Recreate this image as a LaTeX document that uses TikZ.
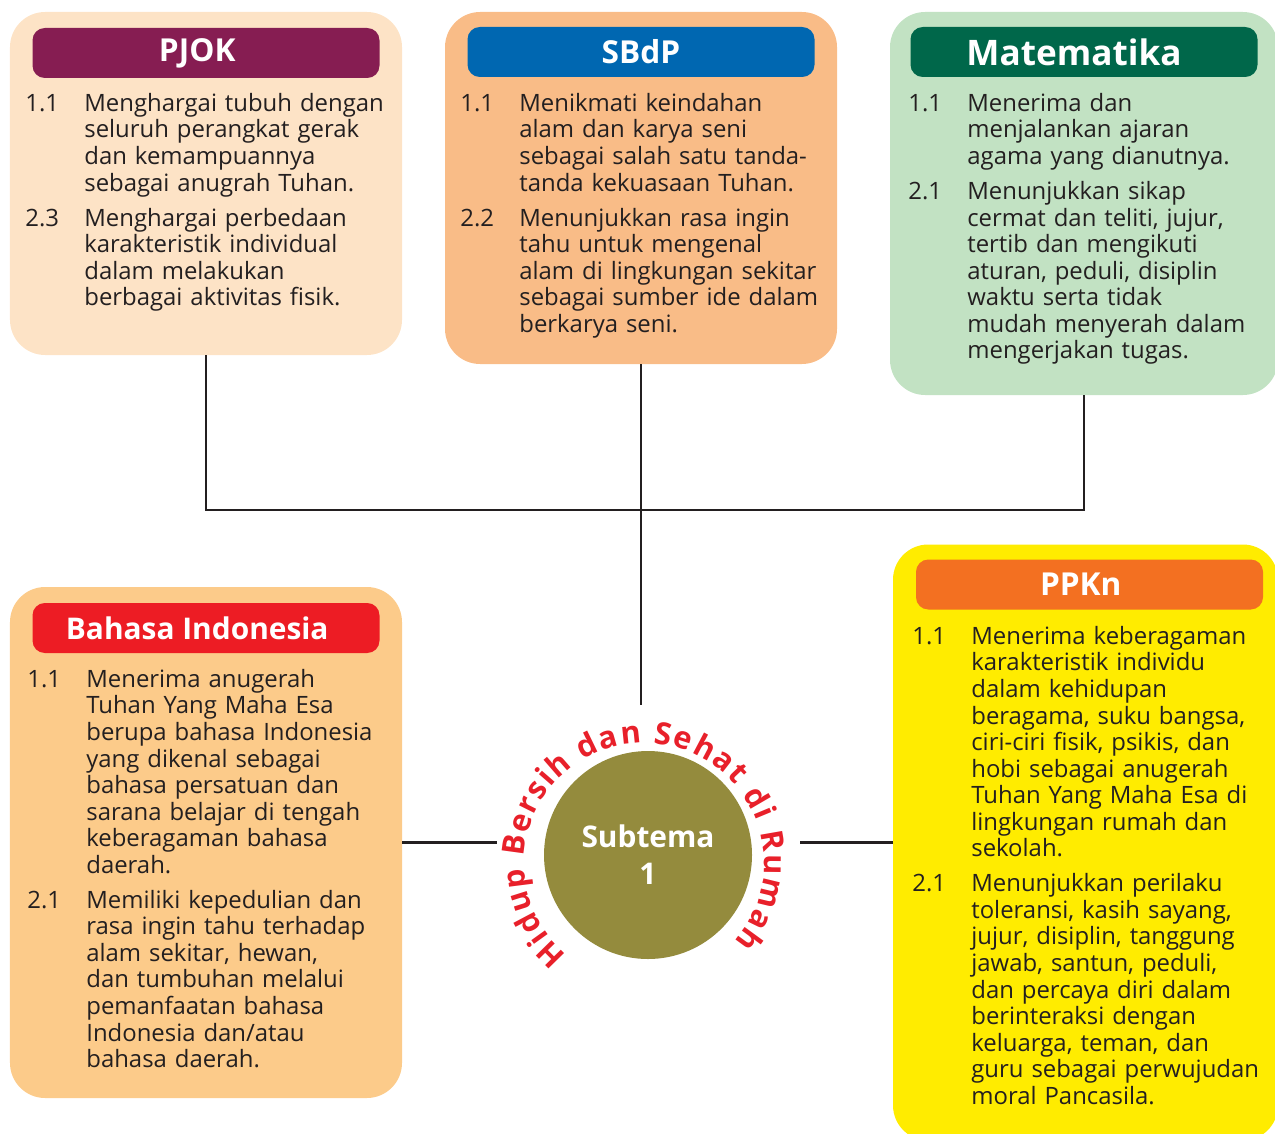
\documentclass[tikz,border=0pt]{standalone}
\usepackage{fontspec}
\setmainfont{Open Sans}
\usepackage{tikz}
\usetikzlibrary{positioning, decorations.text}
\usepackage{xcolor}
\definecolor{PjokUngu}{HTML}{861D52}
\definecolor{PjokKrem}{HTML}{FDE3C6}
\definecolor{SbdpBiru}{HTML}{0067B1}
\definecolor{SbdpJingga}{HTML}{F9BC87}
\definecolor{MtkHijau}{HTML}{00674A}
\definecolor{MtkHijauMuda}{HTML}{C2E2C3}
\definecolor{BindoMerah}{HTML}{ED1C24}
\definecolor{BindoOranye}{HTML}{FCCB8A}
\definecolor{PpknJingga}{HTML}{F37021}
\definecolor{PpknKuning}{HTML}{FFEC00}
\definecolor{TemaZaitun}{HTML}{948B3D}
\definecolor{TemaMerah}{HTML}{E8202A}
\definecolor{Tinta}{HTML}{231F20}

\newcommand{\butir}[2]{\makebox[1.18cm][l]{#1}\parbox[t]{6.6cm}{\raggedright\strut#2\strut}}

\begin{document}
\begin{tikzpicture}[
            card/.style={rounded corners=20pt, inner sep=0pt},
            head/.style={rounded corners=7pt, minimum width=6.94cm, minimum height=1cm, inner sep=0pt, text=white, font=\fontsize{18}{18}\selectfont\bfseries},
            body/.style={anchor=north west, inner sep=0pt, text width=7.8cm, align=left, text=Tinta, font=\fontsize{13.6}{15.1}\selectfont},
            link/.style={draw=Tinta, line width=1.3pt}
        ]
            \useasboundingbox (0,0) rectangle (25.5,-22.66);

            % kartu mata pelajaran
            \node[card, fill=PjokKrem, minimum width=7.84cm, minimum height=6.86cm] (pjok) at (4.12,-3.67) {};
            \node[card, fill=SbdpJingga, minimum width=7.84cm, minimum height=7.04cm] (sbdp) at (12.82,-3.76) {};
            \node[card, fill=MtkHijauMuda, minimum width=7.76cm, minimum height=7.66cm] (mtk) at (21.68,-4.07) {};
            \node[card, fill=BindoOranye, minimum width=7.84cm, minimum height=10.22cm] (bindo) at (4.12,-16.85) {};
            \node[card, fill=PpknKuning, minimum width=7.7cm, minimum height=11.92cm] (ppkn) at (21.71,-16.85) {};

            \node[head, fill=PjokUngu, below=0.32cm of pjok.north] (pjokjudul) {PJOK\hspace*{0.35cm}};
            \node[head, fill=SbdpBiru, below=0.3cm of sbdp.north] (sbdpjudul) {SBdP};
            \node[head, fill=MtkHijau, below=0.3cm of mtk.north, font=\fontsize{20}{20}\selectfont\bfseries] (mtkjudul) {Matematika\hspace*{0.4cm}};
            \node[head, fill=BindoMerah, below=0.32cm of bindo.north, font=\fontsize{17}{17}\selectfont\bfseries] (bindojudul) {Bahasa Indonesia\hspace*{0.35cm}};
            \node[head, fill=PpknJingga, below=0.3cm of ppkn.north, xshift=0.08cm] (ppknjudul) {PPKn\hspace*{0.35cm}};

            \node[body] (pjokisi) at (0.5,-1.85) {%
                \butir{1.1}{Menghargai tubuh dengan\\seluruh perangkat gerak\\dan kemampuannya\\sebagai anugrah Tuhan.}\\[3.9pt]
                \butir{2.3}{Menghargai perbedaan\\karakteristik individual\\dalam melakukan\\berbagai aktivitas fisik.}};
            \node[body] (sbdpisi) at (9.2,-1.85) {%
                \butir{1.1}{Menikmati keindahan\\alam dan karya seni\\sebagai salah satu tanda-\\tanda kekuasaan Tuhan.}\\[3.9pt]
                \butir{2.2}{Menunjukkan rasa ingin\\tahu untuk mengenal\\alam di lingkungan sekitar\\sebagai sumber ide dalam\\berkarya seni.}};
            \node[body] (mtkisi) at (18.16,-1.85) {%
                \butir{1.1}{Menerima dan\\menjalankan ajaran\\agama yang dianutnya.}\\[3.9pt]
                \butir{2.1}{Menunjukkan sikap\\cermat dan teliti, jujur,\\tertib dan mengikuti\\aturan, peduli, disiplin\\waktu serta tidak\\mudah menyerah dalam\\mengerjakan tugas.}};
            \node[body] (bindoisi) at (0.54,-13.37) {%
                \butir{1.1}{Menerima anugerah\\Tuhan Yang Maha Esa\\berupa bahasa Indonesia\\yang dikenal sebagai\\bahasa persatuan dan\\sarana belajar di tengah\\keberagaman bahasa\\daerah.}\\[3.9pt]
                \butir{2.1}{Memiliki kepedulian dan\\rasa ingin tahu terhadap\\alam sekitar, hewan,\\dan tumbuhan melalui\\pemanfaatan bahasa\\Indonesia dan/atau\\bahasa daerah.}};
            \node[body] (ppknisi) at (18.24,-12.51) {%
                \butir{1.1}{Menerima keberagaman\\karakteristik individu\\dalam kehidupan\\beragama, suku bangsa,\\ciri-ciri fisik, psikis, dan\\hobi sebagai anugerah\\Tuhan Yang Maha Esa di\\lingkungan rumah dan\\sekolah.}\\[3.9pt]
                \butir{2.1}{Menunjukkan perilaku\\toleransi, kasih sayang,\\jujur, disiplin, tanggung\\jawab, santun, peduli,\\dan percaya diri dalam\\berinteraksi dengan\\keluarga, teman, dan\\guru sebagai perwujudan\\moral Pancasila.}};

            % subtema di tengah
            \node[circle, fill=TemaZaitun, minimum size=4.16cm, inner sep=0pt, text=white, align=center, font=\fontsize{17}{21}\selectfont\bfseries] (subtema) at (12.96,-17.1) {Subtema\\1};
            \path[decorate, decoration={text along path, text align={fit to path},
                text={|\fontsize{17.5}{18}\selectfont\bfseries\color{TemaMerah}|Hidup Bersih dan Sehat di Rumah}}]
                (12.88,-17.26) ++(230:2.4) arc[start angle=230, end angle=-41, radius=2.4];

            \coordinate (hub) at (sbdp.south |- 0,-10.2);
            \coordinate (ringatas) at (sbdp.south |- 0,-14.1);
            \coordinate (ringkiri) at (9.94,-16.85);
            \coordinate (ringkanan) at (16.0,-16.85);

            \draw[link] (pjok.south) |- (hub) -| (mtk.south);
            \draw[link] (sbdp.south) -- (ringatas);
            \draw[link] (bindo.east) -- (ringkiri);
            \draw[link] (ringkanan) -- (ppkn.west);
        \end{tikzpicture}
\end{document}
